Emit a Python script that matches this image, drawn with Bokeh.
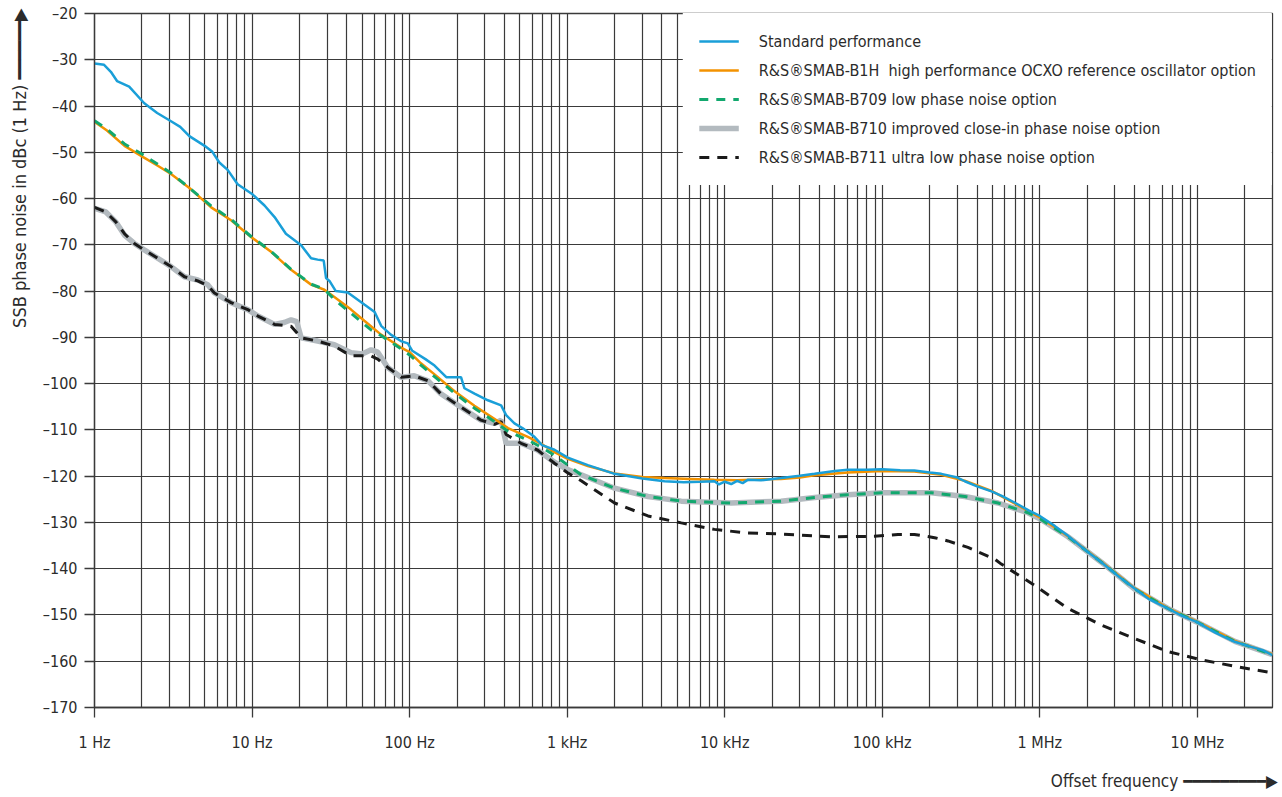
import math
from bokeh.plotting import figure
from bokeh.models import (FixedTicker, CustomJSTickFormatter, Legend, LegendItem, Title, Range1d)
from bokeh.embed import file_html
from bokeh.resources import INLINE

# ---------------- data ----------------
std_f = [1, 1.15, 1.27, 1.39, 1.66, 2.07, 2.5, 3.06, 3.5, 4, 5, 5.6, 6.2, 7, 8.1, 10, 12, 13.9,
         16.4, 20.5, 23.7, 26.1, 28.5, 29.5, 31, 34, 40.5, 51.6, 60, 66, 76, 88, 97.5, 104, 126,
         144, 171, 212, 223, 260, 314, 381, 410, 463, 520, 620, 693, 831, 1010, 1353, 2000, 3000,
         4150, 5500, 7000, 8600, 9200, 10000, 11000, 12000, 13000, 14000, 17000, 22800, 30000,
         37200, 50000, 60500, 80000, 100000, 130000, 160000, 200000, 237000, 300000, 334000,
         400000, 494000, 578000, 700000, 850000, 1000000, 1250000, 1510000, 2000000, 2460000,
         3200000, 4000000, 5000000, 6500000, 8000000, 9900000, 13000000, 17300000, 22000000,
         26000000, 30000000]
std_db = [-30.8, -31.1, -32.6, -34.6, -35.8, -39.4, -41.5, -43.3, -44.5, -46.5, -48.6, -49.9,
          -52.2, -53.8, -56.9, -59.0, -61.5, -64.0, -67.6, -70.1, -72.9, -73.2, -73.4, -77.2,
          -77.8, -80.0, -80.3, -82.9, -84.5, -87.5, -89.4, -90.8, -91.3, -92.9, -94.7, -96.1,
          -98.6, -98.6, -101.0, -102.2, -103.6, -104.7, -106.8, -108.6, -109.6, -111.5, -113.3,
          -114.3, -116.0, -117.6, -119.5, -120.5, -121.1, -121.3, -121.2, -121.1, -121.8, -121.2,
          -121.7, -121.0, -121.5, -120.8, -120.9, -120.4, -119.9, -119.5, -118.9, -118.6, -118.6,
          -118.5, -118.7, -118.8, -119.2, -119.5, -120.3, -121.1, -122.2, -123.3, -124.3, -125.8,
          -127.4, -128.6, -130.8, -132.9, -136.3, -138.6, -141.8, -144.3, -146.7, -148.6, -150.2,
          -151.5, -153.8, -155.8, -156.9, -157.6, -158.7]

b1h_f = [1, 1.2, 1.55, 2.05, 2.52, 3.06, 4.1, 5.5, 7.36, 9.86, 13.2, 17.7, 23.7, 28.8, 33.3,
         42.5, 51.6, 65.9, 88.3, 100, 118, 144, 192, 258, 345, 421, 563, 700, 831, 1000, 1353,
         2000, 3000, 4150, 6000, 8600, 12000, 16000, 22800, 30000, 37200, 60500, 100000, 160000,
         237000, 334000, 494000, 700000, 1000000, 1510000, 2460000, 4000000, 6500000, 9900000,
         17300000, 30000000]
b1h_db = [-43.4, -45.3, -48.6, -51.1, -52.9, -54.7, -58.0, -61.9, -64.7, -68.3, -71.5, -75.4,
          -78.6, -79.7, -81.3, -84.0, -86.4, -89.4, -92.2, -93.2, -95.6, -98.0, -101.6, -104.8,
          -107.6, -109.6, -111.5, -113.2, -114.8, -116.2, -117.8, -119.4, -120.2, -120.4, -120.6,
          -120.8, -120.9, -120.7, -120.6, -120.3, -119.8, -119.2, -118.9, -119.0, -119.7, -121.0,
          -123.2, -126.0, -128.9, -133.0, -138.5, -144.2, -148.5, -151.4, -155.6, -158.5]

b709_f = [1, 1.2, 1.55, 2.05, 2.52, 3.06, 4.1, 5.5, 7.36, 9.86, 13.2, 17.7, 23.7, 28.8, 33.3,
          42.5, 57, 65.9, 88.3, 100, 118, 144, 192, 258, 345, 421, 563, 700, 831, 1000, 1228,
          2000, 3260, 5300, 11000, 22800, 37200, 60500, 100000, 205000, 334000, 543000, 841000,
          1000000, 1510000, 2460000, 4000000, 6500000, 9900000, 17300000, 30000000]
b709_db = [-43.2, -45.0, -48.2, -50.6, -52.6, -54.5, -58.0, -61.6, -64.5, -68.2, -71.4, -75.3,
           -78.5, -79.6, -81.8, -84.8, -88.4, -89.6, -92.5, -93.8, -96.0, -98.5, -102.0, -105.3,
           -108.2, -110.3, -112.2, -113.9, -115.5, -117.5, -119.7, -122.6, -124.4, -125.4, -125.8,
           -125.4, -124.6, -124.0, -123.6, -123.6, -124.4, -125.8, -127.9, -129.2, -133.1, -138.6,
           -144.4, -148.6, -151.5, -155.7, -158.6]

b710_f = [1, 1.18, 1.37, 1.55, 1.79, 2.07, 2.52, 3.06, 3.72, 4.52, 5.23, 5.77, 7.36, 9.4, 10.9,
          13.9, 16, 17.7, 19.2, 20.5, 26.1, 33.3, 42.5, 50, 57, 62.8, 72.7, 88.3, 107, 131, 158,
          212, 284, 345, 381, 410, 510, 652, 831, 1000, 1228, 2000, 3260, 5300, 11000, 22800,
          37200, 60500, 100000, 205000, 334000, 543000, 841000, 1000000, 1510000, 2460000,
          4000000, 6500000, 9900000, 17300000, 30000000]
b710_db = [-62.1, -62.9, -65.1, -67.9, -69.7, -71.1, -72.9, -74.7, -76.9, -77.6, -78.6, -80.4,
           -82.5, -84.0, -85.4, -87.2, -86.8, -86.2, -86.6, -90.1, -90.8, -91.6, -93.3, -93.6,
           -92.7, -93.2, -96.5, -98.6, -98.3, -99.4, -102.2, -105.1, -107.9, -108.6, -107.9,
           -112.9, -112.9, -114.4, -117.0, -118.5, -119.7, -122.6, -124.4, -125.4, -125.8, -125.4,
           -124.6, -124.0, -123.6, -123.6, -124.4, -125.8, -127.9, -129.2, -133.1, -138.6, -144.4,
           -148.6, -151.5, -155.7, -158.6]

b711_f = [1, 1.18, 1.37, 1.55, 1.79, 2.07, 2.52, 3.06, 3.72, 4.52, 5.23, 5.77, 7.36, 9.4, 10.9,
          13.9, 17.7, 20.5, 26.1, 33.3, 42.5, 57, 62.8, 72.7, 88.3, 107, 131, 158, 212, 284, 345,
          381, 410, 510, 652, 831, 1000, 1228, 2000, 3260, 5300, 8600, 14000, 22800, 47400, 89000,
          126000, 160000, 215000, 261000, 350000, 517000, 570000, 927000, 1510000, 2460000,
          4000000, 6500000, 10600000, 17300000, 30000000]
b711_db = [-61.9, -62.9, -65.1, -67.6, -69.7, -71.1, -72.9, -74.7, -76.9, -77.8, -78.8, -80.4,
           -82.5, -84.0, -85.4, -87.2, -87.6, -90.1, -90.8, -91.9, -94.0, -94.0, -94.7, -96.5,
           -98.6, -98.3, -99.4, -102.2, -105.1, -107.9, -108.8, -108.2, -111.0, -112.9, -114.4,
           -117.2, -119.2, -121.0, -125.8, -128.6, -130.1, -131.5, -132.3, -132.5, -133.1, -133.0,
           -132.6, -132.6, -133.3, -134.0, -135.4, -137.9, -139.0, -143.6, -148.6, -152.2, -155.1,
           -157.9, -159.7, -161.1, -162.5]

series_labels = [
    "Standard performance",
    "R&S\u00aeSMAB-B1H  high performance OCXO reference oscillator option",
    "R&S\u00aeSMAB-B709 low phase noise option",
    "R&S\u00aeSMAB-B710 improved close-in phase noise option",
    "R&S\u00aeSMAB-B711 ultra low phase noise option",
]

x_tick_values = [1, 10, 100, 1000, 10000, 100000, 1000000, 10000000]
x_tick_labels = ["1 Hz", "10 Hz", "100 Hz", "1 kHz", "10 kHz", "100 kHz", "1 MHz", "10 MHz"]
grid_multipliers = [1, 2, 3, 4, 5, 6, 7, 8, 9]
y_tick_values = [-170, -160, -150, -140, -130, -120, -110, -100, -90, -80, -70, -60, -50, -40, -30, -20]

y_title = "SSB phase noise in dBc (1 Hz)"
x_title = "Offset frequency"

x_min, x_max = 1, 3e7
y_min, y_max = -170, -20

# ---------------- figure ----------------
FONT = "DejaVu Sans Condensed, Roboto, sans-serif"
FS = "16px"
GRID = "#3a3a3a"
TXT = "#2b2b2b"

W, H = 1280, 795
BL, BR, BT, BB = 94, 8, 13, 82
p = figure(width=W, height=H, x_axis_type="log",
           x_range=Range1d(x_min, x_max), y_range=Range1d(y_min, y_max),
           output_backend="svg", toolbar_location=None,
           min_border_left=BL, min_border_right=BR, min_border_top=BT, min_border_bottom=BB)
p.background_fill_color = "white"
p.border_fill_color = "white"
p.outline_line_color = GRID
p.outline_line_width = 1.3

grid_x = [m * d for d in x_tick_values for m in grid_multipliers if m * d <= x_max]
p.xgrid.ticker = FixedTicker(ticks=grid_x)
p.ygrid.ticker = FixedTicker(ticks=y_tick_values)
for g in (p.xgrid, p.ygrid):
    g.grid_line_color = GRID
    g.grid_line_width = 1.2
    g.grid_line_alpha = 1.0

p.xaxis.ticker = FixedTicker(ticks=x_tick_values)
p.xaxis.formatter = CustomJSTickFormatter(
    args=dict(vals=x_tick_values, labs=x_tick_labels),
    code="""
for (let i = 0; i < vals.length; i++) {
  if (Math.abs(Math.log10(vals[i]) - Math.log10(tick)) < 1e-6) return labs[i];
}
return '';
""")
p.yaxis.ticker = FixedTicker(ticks=y_tick_values)
p.yaxis.formatter = CustomJSTickFormatter(
    code="return (tick < 0 ? '\\u2013' : '') + Math.abs(tick).toFixed(0);")

for ax in (p.xaxis, p.yaxis):
    ax.axis_line_color = GRID
    ax.axis_line_width = 1.3
    ax.major_tick_line_color = GRID
    ax.major_tick_line_width = 1.3
    ax.major_tick_out = 10
    ax.major_tick_in = 0
    ax.minor_tick_line_color = None
    ax.major_label_text_font = FONT
    ax.major_label_text_font_size = FS
    ax.major_label_text_color = TXT
    # an invisible axis label, only used to push the outer titles outward
    ax.axis_label = " "
    ax.axis_label_text_font_size = "2px"
p.xaxis.major_label_standoff = 15
p.yaxis.major_label_standoff = 7
p.xaxis.axis_label_standoff = 4
p.yaxis.axis_label_standoff = 0

# ---------------- lines ----------------
r_gray = p.line(b710_f, b710_db, line_color="#b3babf", line_width=5.5)
r_black = p.line(b711_f, b711_db, line_color="#1a1a1a", line_width=3, line_dash="10 8")
r_orange = p.line(b1h_f, b1h_db, line_color="#f39200", line_width=2.5)
r_green = p.line(b709_f, b709_db, line_color="#12a86e", line_width=3, line_dash="9 8")
r_blue = p.line(std_f, std_db, line_color="#1a9fd8", line_width=2.5)

legend = Legend(items=[
    LegendItem(label=series_labels[0], renderers=[r_blue]),
    LegendItem(label=series_labels[1], renderers=[r_orange]),
    LegendItem(label=series_labels[2], renderers=[r_green]),
    LegendItem(label=series_labels[3], renderers=[r_gray]),
    LegendItem(label=series_labels[4], renderers=[r_black]),
], location="top_right")
legend.margin = 0
legend.padding = 16
legend.spacing = 5
legend.label_height = 24
legend.glyph_height = 24
legend.glyph_width = 40
legend.label_standoff = 20
legend.border_line_alpha = 0
legend.background_fill_color = "white"
legend.background_fill_alpha = 1
legend.label_text_font = FONT
legend.label_text_font_size = FS
legend.label_text_color = TXT
p.add_layout(legend)

# ---------------- axis titles with arrows ----------------
LINE = "\u2501"
HEAD = "\u25b6"
ty = Title(text=y_title + "  " + LINE * 6 + HEAD, align="right", offset=-10,
           text_font=FONT, text_font_size="18px", text_font_style="normal", text_color=TXT)
p.add_layout(ty, "left")
tx = Title(text=x_title + "   " + LINE * 9 + HEAD, align="right", offset=-15,
           text_font=FONT, text_font_size="17px", text_font_style="normal", text_color=TXT)
p.add_layout(tx, "below")

open("out.html", "w").write(file_html(p, INLINE))
